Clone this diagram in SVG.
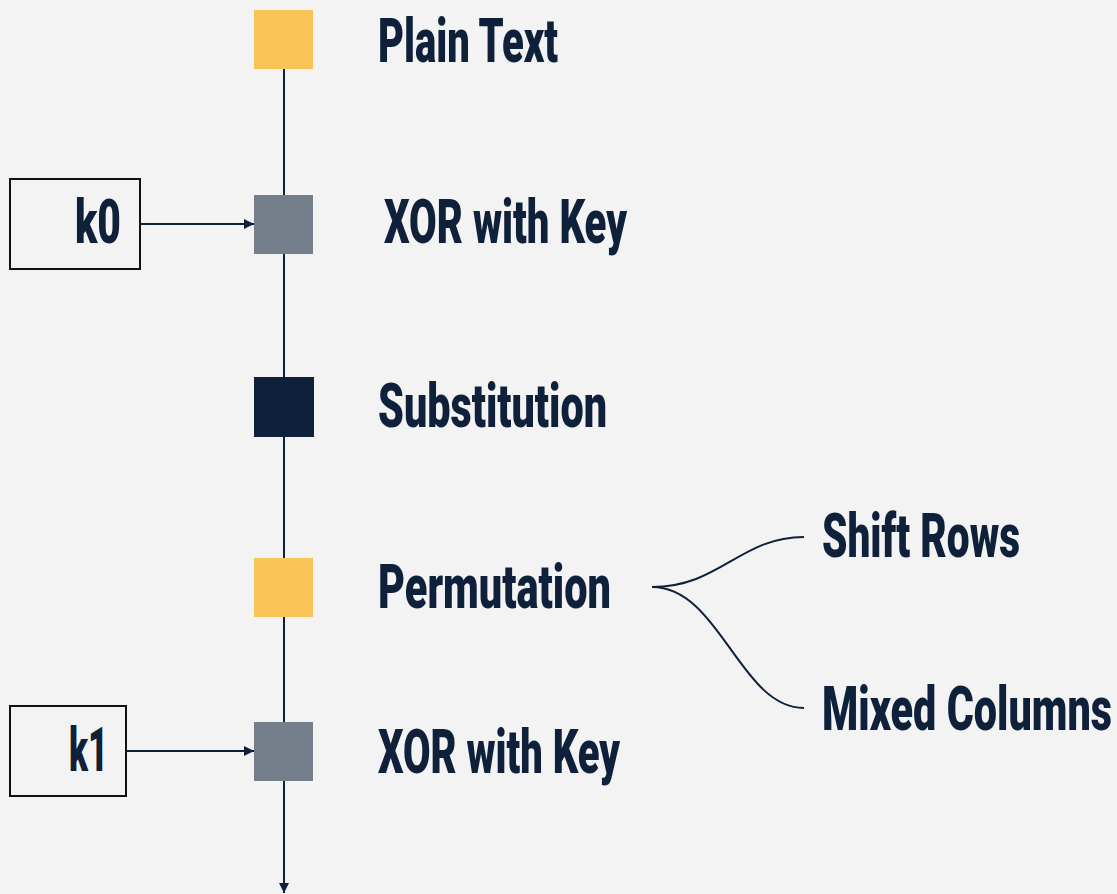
<svg xmlns="http://www.w3.org/2000/svg" width="1117" height="894" viewBox="0 0 1117 894">
<style>
.lbl{font-family:"Roboto","Liberation Sans",sans-serif;font-weight:900;font-size:62px;fill:#0F213A}
.ln{stroke:#0F213A;stroke-width:2;fill:none}
.key{fill:none;stroke:#111111;stroke-width:2}
</style>
<defs>
<marker id="arr" viewBox="0 0 10 10" refX="10" refY="5" markerWidth="10" markerHeight="10" markerUnits="userSpaceOnUse" orient="auto">
<path d="M0,0 L10,5 L0,10 z" fill="#0F213A"/>
</marker>
</defs>
<rect width="1117" height="894" fill="#F3F3F3"/>
<g id="connectors">
<line class="ln" x1="284" y1="68" x2="284" y2="893" marker-end="url(#arr)"/>
<line class="ln" x1="140" y1="224" x2="254" y2="224" marker-end="url(#arr)"/>
<line class="ln" x1="126" y1="751" x2="254" y2="751" marker-end="url(#arr)"/>
<path class="ln" d="M652,587 C720,587 740,537 804,537"/>
<path class="ln" d="M652,587 C720,587 740,708 804,708"/>
</g>
<g id="plain-text">
<rect x="254" y="10" width="59" height="59" fill="#FBC457"/>
<text class="lbl" x="378" y="62" textLength="180" lengthAdjust="spacingAndGlyphs">Plain Text</text>
</g>
<g id="k0">
<rect class="key" x="10" y="179" width="130" height="90"/>
<text class="lbl" x="75" y="243" font-size="57" textLength="46" lengthAdjust="spacingAndGlyphs">k0</text>
</g>
<g id="xor1">
<rect x="254" y="195" width="59" height="59" fill="#757F8B"/>
<text class="lbl" x="384" y="243" textLength="243" lengthAdjust="spacingAndGlyphs">XOR with Key</text>
</g>
<g id="substitution">
<rect x="254" y="377" width="60" height="60" fill="#0F213A"/>
<text class="lbl" x="378" y="427" textLength="229" lengthAdjust="spacingAndGlyphs">Substitution</text>
</g>
<g id="permutation">
<rect x="254" y="558" width="59" height="59" fill="#FBC457"/>
<text class="lbl" x="378" y="608" textLength="233" lengthAdjust="spacingAndGlyphs">Permutation</text>
</g>
<g id="shift-rows">
<text class="lbl" x="822" y="557" textLength="198" lengthAdjust="spacingAndGlyphs">Shift Rows</text>
</g>
<g id="mixed-columns">
<text class="lbl" x="822" y="730" textLength="290" lengthAdjust="spacingAndGlyphs">Mixed Columns</text>
</g>
<g id="k1">
<rect class="key" x="10" y="706" width="116" height="90"/>
<text class="lbl" x="69" y="771" font-size="57" textLength="39" lengthAdjust="spacingAndGlyphs">k1</text>
</g>
<g id="xor2">
<rect x="254" y="722" width="59" height="59" fill="#757F8B"/>
<text class="lbl" x="378" y="773" textLength="242" lengthAdjust="spacingAndGlyphs">XOR with Key</text>
</g>
</svg>
